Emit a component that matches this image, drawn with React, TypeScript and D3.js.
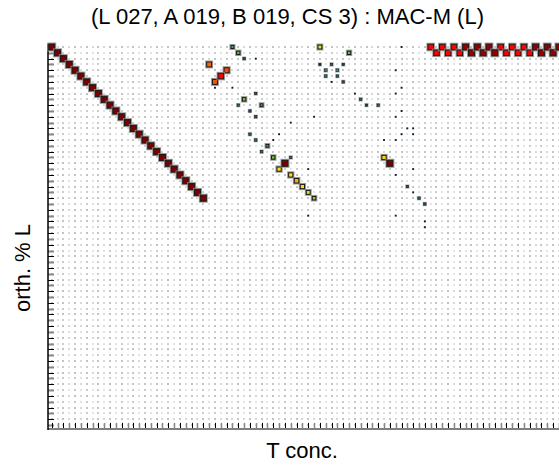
import React from "react";
import * as d3 from "d3";

const TITLE = "(L 027, A 019, B 019, CS 3) : MAC-M (L)";
const X_LABEL = "T conc.";
const Y_LABEL = "orth. % L";

const N_ROWS = 66;
const N_COLS = 90;

// MAC cells: row index, column index, value
const markRows = [
  // diagonal
  0, 1, 2, 3, 4, 5, 6, 7, 8, 9, 10, 11, 12, 13, 14, 15, 16, 17, 18, 19, 20, 21, 22, 23, 24, 25, 26,
  // top-right zigzag
  0, 1, 0, 1, 0, 1, 0, 1, 0, 1, 0, 1, 0, 1, 0, 1, 0, 1, 0, 1, 0, 1, 0,
  // off-diagonal blocks
  0, 1, 2, 3, 4, 5, 6, 9, 8, 10, 10, 11, 12, 15, 16, 17, 18, 19, 19, 20, 21, 22, 23, 24, 25, 26,
  0, 1, 3, 3, 3, 4, 4, 5, 5, 6, 6, 9, 10, 10, 19, 20, 24, 26, 27, 31,
  // faint cells
  7, 15, 16, 0, 4, 7, 8, 11, 12, 14, 14, 15, 15, 16, 16, 21, 22, 25, 29, 30, 2, 7, 13, 21, 29, 8, 12,
];
const markCols = [
  0, 1, 2, 3, 4, 5, 6, 7, 8, 9, 10, 11, 12, 13, 14, 15, 16, 17, 18, 19, 20, 21, 22, 23, 24, 25, 26,
  65, 66, 67, 68, 69, 70, 71, 72, 73, 74, 75, 76, 77, 78, 79, 80, 81, 82, 83, 84, 85, 86, 87,
  31, 32, 33, 27, 30, 29, 28, 33, 35, 32, 36, 34, 35, 34, 35, 37, 36, 38, 41, 40, 39, 41, 42, 43, 44, 45,
  46, 51, 46, 48, 50, 47, 49, 47, 49, 50, 48, 53, 54, 56, 57, 58, 61, 63, 64, 64,
  31, 39, 38, 60, 59, 60, 59, 60, 59, 61, 62, 60, 62, 57, 59, 62, 59, 62, 59, 64, 35, 28, 41, 44, 44, 52, 45,
];
const markValues = [
  1, 1, 1, 1, 1, 1, 1, 1, 1, 1, 1, 1, 1, 1, 1, 1, 1, 1, 1, 1, 1, 1, 1, 1, 1, 1, 1,
  0.9, 0.9, 0.9, 0.9, 0.9, 0.9, 0.98, 0.98, 0.98, 0.98, 0.98, 0.98, 0.9, 0.9, 0.9, 0.9, 0.9, 0.9, 0.98, 0.98, 0.98, 0.98, 0.98,
  0.34, 0.42, 0.2, 0.76, 0.8, 0.9, 0.78, 0.44, 0.2, 0.22, 0.3, 0.2, 0.2, 0.22, 0.22, 0.3, 0.22, 0.44, 0.22, 1, 0.62, 0.62, 0.68, 0.62, 0.54, 0.46,
  0.55, 0.42, 0.16, 0.22, 0.18, 0.28, 0.28, 0.24, 0.22, 0.2, 0.12, 0.22, 0.18, 0.22, 0.62, 1, 0.2, 0.22, 0.2, 0.12,
  0.1, 0.1, 0.1, 0.1, 0.1, 0.1, 0.1, 0.1, 0.1, 0.1, 0.1, 0.1, 0.1, 0.1, 0.1, 0.1, 0.1, 0.1, 0.1, 0.1, 0.1, 0.1, 0.1, 0.1, 0.1, 0.1, 0.1,
];

const COLOR_STOPS = [0, 0.15, 0.22, 0.3, 0.4, 0.5, 0.6, 0.68, 0.78, 0.9, 1];
const COLOR_RANGE = [
  "#000000", "#0c2840", "#1a6a7c", "#2aa8a0", "#44bb44", "#b8e020",
  "#ffee00", "#ffaa00", "#ff5000", "#ff0000", "#7a0000",
];

export default function App() {
  const W = 559;
  const H = 466;
  const cellW = 5.83;
  const cellH = 5.815;
  const x0 = 48.8;
  const y0 = 44.1;

  const x = d3.scaleLinear().domain([0, N_COLS]).range([x0, x0 + N_COLS * cellW]);
  const y = d3.scaleLinear().domain([0, N_ROWS]).range([y0, y0 + N_ROWS * cellH]);
  const color = d3.scaleLinear<string>().domain(COLOR_STOPS).range(COLOR_RANGE);
  const size = d3.scaleLinear().domain([0, 1]).range([1.4, 6]);

  const cx = (j: number) => x(j + 0.5);
  const cy = (i: number) => y(i + 0.5);

  // grid dots as paths by class
  let pBlack = "";
  let pDark = "";
  let pMid = "";
  let pLight = "";
  for (let i = 0; i < N_ROWS; i++) {
    for (let j = 0; j < N_COLS; j++) {
      const px = Math.round(cx(j));
      const py = Math.round(cy(i));
      if (i % 2 === 0) {
        if (j % 2 === 0) pBlack += `M${px - 0.5},${py - 0.5}h1v1h-1z`;
        else pDark += `M${px - 0.5},${py - 0.5}h1v1h-1z`;
      } else {
        if (j % 2 === 0) pMid += `M${px - 1},${py - 0.5}h2v1h-2z`;
        else pLight += `M${px - 1},${py - 0.5}h2v1h-2z`;
      }
    }
  }

  const axisBottom = y(N_ROWS) + 1;

  const marks = markValues.map((v, k) => ({ r: markRows[k], c: markCols[k], v }));
  marks.sort((a, b) => a.v - b.v);

  return (
    <svg
      width={W}
      height={H}
      style={{ position: "absolute", left: 0, top: 0, background: "#fff" }}
      fontFamily="'Liberation Sans', Arial, sans-serif"
    >
      <rect x={0} y={0} width={W} height={H} fill="#fff" />
      <text x={287.5} y={24} textAnchor="middle" fontSize={22} fill="#000">
        {TITLE}
      </text>

      <path d={pBlack} fill="#111" />
      <path d={pDark} fill="#666" />
      <path d={pMid} fill="#999" />
      <path d={pLight} fill="#c8c8c8" />

      {/* left ticks */}
      {d3.range(N_ROWS).map((i) => (
        <line
          key={"yt" + i}
          x1={48}
          x2={54}
          y1={Math.round(cy(i)) + 0.5}
          y2={Math.round(cy(i)) + 0.5}
          stroke={i % 2 === 0 ? "#000" : "#888"}
          strokeWidth={i % 2 === 0 ? 1 : 2}
        />
      ))}
      {/* bottom ticks */}
      {d3.range(N_COLS).map((j) => (
        <line
          key={"xt" + j}
          x1={Math.round(cx(j)) + 0.5}
          x2={Math.round(cx(j)) + 0.5}
          y1={axisBottom - 6}
          y2={axisBottom}
          stroke={j % 2 === 0 ? "#000" : "#888"}
          strokeWidth={j % 2 === 0 ? 1 : 1.5}
        />
      ))}
      <line x1={48} x2={W} y1={axisBottom} y2={axisBottom} stroke="#808080" strokeWidth={2} />
      <line x1={48} x2={48} y1={y0} y2={axisBottom + 1} stroke="#000" strokeWidth={1.5} />

      {marks.map((m, k) => {
        const s = size(m.v);
        const X = cx(m.c);
        const Y = cy(m.r);
        if (m.v <= 0.12) {
          return (
            <rect key={"m" + k} x={X - s / 2} y={Y - s / 2} width={s} height={s} fill={color(m.v)} />
          );
        }
        const halo = m.v < 0.3 ? 1 : 1.5;
        return (
          <g key={"m" + k}>
            <rect
              x={X - s / 2 - halo}
              y={Y - s / 2 - halo}
              width={s + 2 * halo}
              height={s + 2 * halo}
              fill="#8a8a8a"
              opacity={m.v < 0.3 ? 0.6 : 0.85}
            />
            <rect x={X - s / 2} y={Y - s / 2} width={s} height={s} fill={color(m.v)} stroke="#1a1a1a" strokeWidth={m.v < 0.3 ? 0.6 : 1} />
          </g>
        );
      })}

      <text x={302} y={458} textAnchor="middle" fontSize={22} fill="#000">
        {X_LABEL}
      </text>
      <text
        transform={`translate(30,268) rotate(-90)`}
        textAnchor="middle"
        fontSize={22}
        fill="#000"
      >
        {Y_LABEL}
      </text>
    </svg>
  );
}
